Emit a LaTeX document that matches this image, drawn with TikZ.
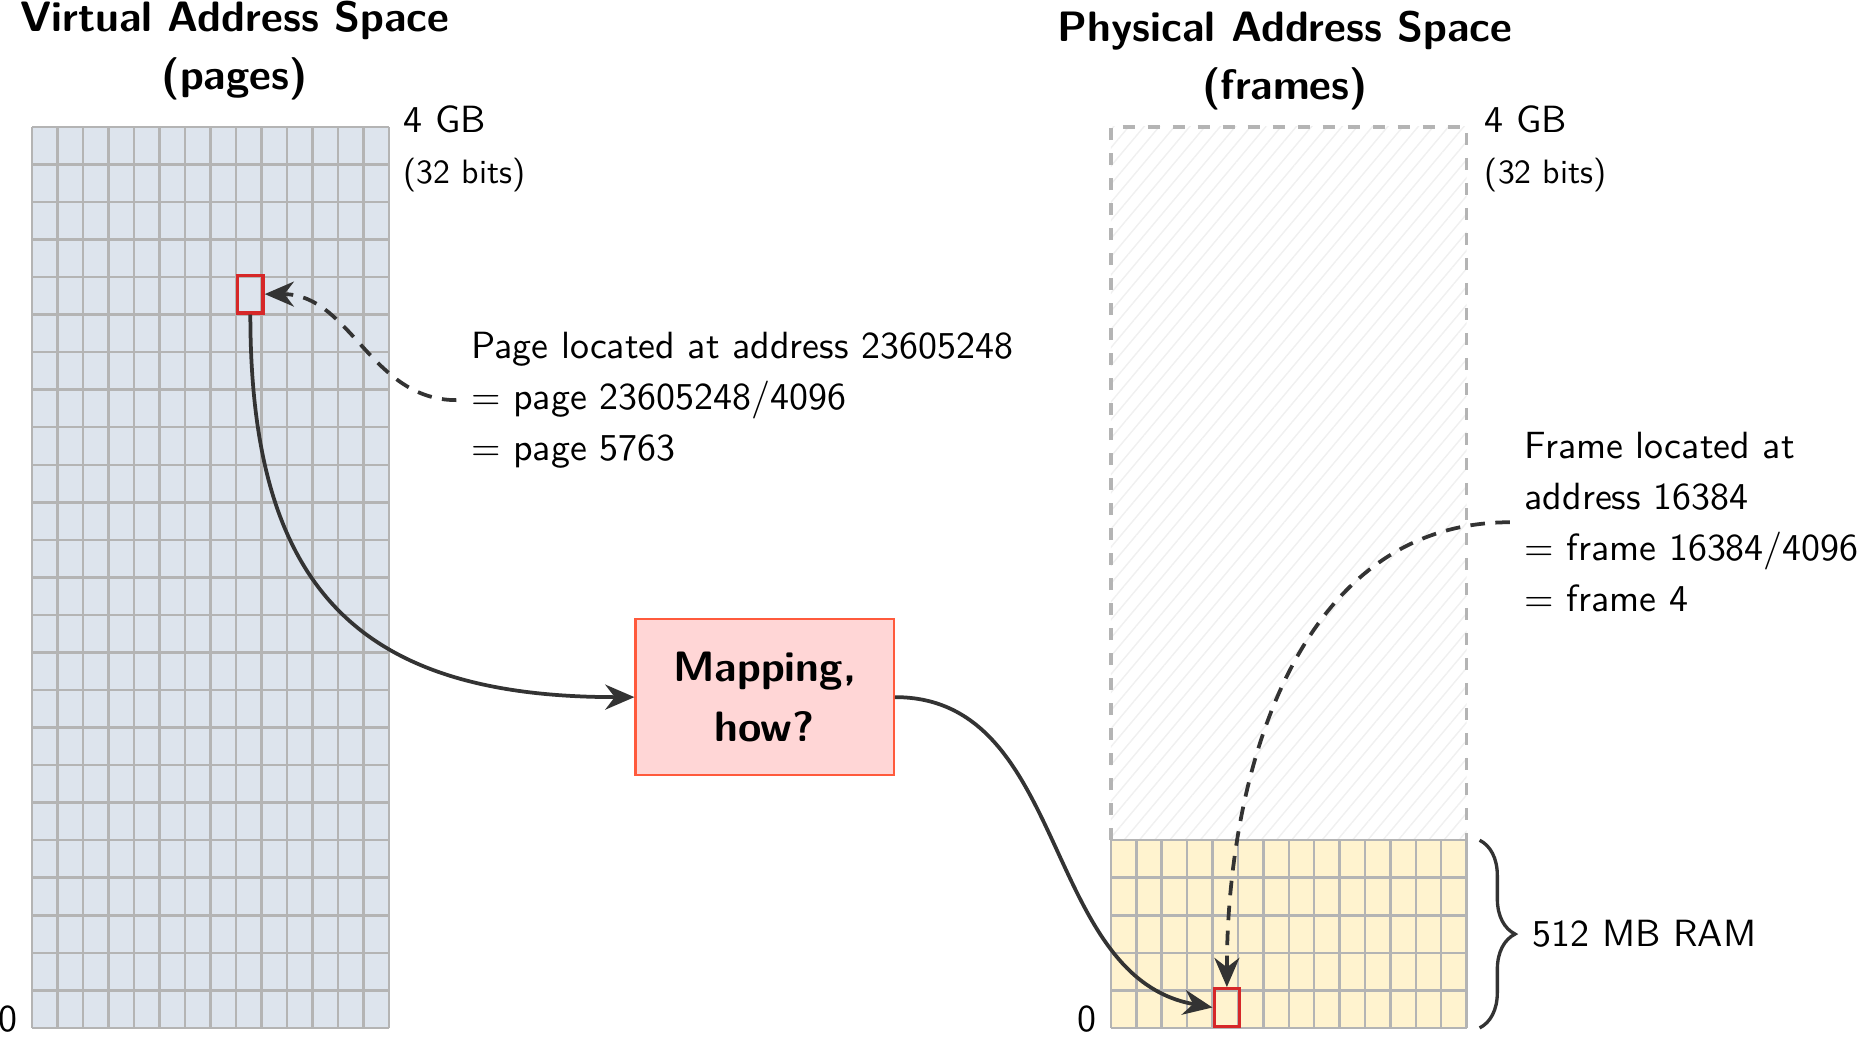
\documentclass[tikz,border=0pt]{standalone}
\usepackage{fontspec}
\setsansfont{lmsans10-regular.otf}[BoldFont=lmsans10-bold.otf]
\usetikzlibrary{arrows.meta,patterns.meta,decorations.pathreplacing}
\definecolor{pagefill}{RGB}{221,228,237}
\definecolor{ramfill}{RGB}{255,243,207}
\definecolor{gridgray}{RGB}{180,180,180}
\definecolor{mapfill}{RGB}{255,214,214}
\definecolor{mapline}{RGB}{255,90,60}
\definecolor{markred}{RGB}{214,39,40}
\definecolor{linkgray}{RGB}{51,51,51}
\tikzset{
  every node/.style={font=\sffamily\fontsize{9.1}{12.2}\selectfont},
  title/.style={font=\sffamily\bfseries\fontsize{10.2}{14}\selectfont, align=center},
  small/.style={font=\sffamily\fontsize{8.1}{10}\selectfont},
  gridline/.style={draw=gridgray, line width=0.6pt},
  cell/.style={draw=markred, line width=0.8pt, minimum width=0.215cm, minimum height=0.3167cm, inner sep=0pt, anchor=south west},
  mapbox/.style={draw=mapline, fill=mapfill, line width=0.5pt, minimum width=2.18cm, minimum height=1.32cm, align=center, font=\sffamily\bfseries\fontsize{10.2}{14.3}\selectfont},
  link/.style={draw=linkgray, line width=0.9pt, -{Stealth[length=7pt,width=6pt]}},
  dlink/.style={link, dash pattern=on 3.5pt off 2.5pt},
  note/.style={align=left}
}
\begin{document}
\begin{tikzpicture}
\useasboundingbox (0,0) rectangle (15.68,8.74);
% virtual address space (pages)
\fill[pagefill] (0.27,0.07) rectangle (3.28,7.67);
\begin{scope}[shift={(0.27,0.07)}]
\draw[gridline, xstep=0.215cm, ystep=0.31667cm] (0,0) grid (3.011,7.601);
\end{scope}
\node[title] (vtitle) at (1.98,8.314) {Virtual Address Space\\(pages)};
\node[anchor=base west] (vmax) at (3.28,7.62) {4 GB};
\node[small, anchor=base west] (vbits) at (3.28,7.19) {(32 bits)};
\node[anchor=base east] (vzero) at (0.27,0.04) {0};
\node[cell] (page) at (1.99,6.087) {};

% physical address space (frames)
\fill[pattern={Lines[angle=50, distance=2.8pt, line width=0.35pt]}, pattern color=black!6] (9.37,1.653) rectangle (12.37,7.67);
\draw[gridgray, dashed, line width=0.8pt] (9.37,1.653) rectangle (12.37,7.67);
\fill[ramfill] (9.37,0.07) rectangle (12.37,1.653);
\begin{scope}[shift={(9.37,0.07)}]
\draw[gridline, xstep=0.21429cm, ystep=0.31667cm] (0,0) grid (3.001,1.584);
\end{scope}
\node[title] (ptitle) at (10.84,8.23) {Physical Address Space\\(frames)};
\node[anchor=base west] (pmax) at (12.40,7.62) {4 GB};
\node[small, anchor=base west] (pbits) at (12.40,7.19) {(32 bits)};
\node[anchor=base east] (pzero) at (9.37,0.04) {0};
\node[cell, minimum width=0.2143cm] (frame) at (10.227,0.07) {};
\draw[linkgray, line width=0.8pt, decorate, decoration={brace, amplitude=8.5pt}] (12.48,1.653) -- (12.48,0.07) node[midway, right=9pt, text=black] (ramtxt) {512 MB RAM};

% mapping
\node[mapbox] (map) at (6.45,2.86) {Mapping,\\how?};
\node[note, anchor=west] (pagetxt) at (3.85,5.365) {Page located at address 23605248\\= page 23605248/4096\\= page 5763};
\node[note, anchor=west] (frametxt) at (12.735,4.335) {Frame located at\\address 16384\\= frame 16384/4096\\= frame 4};

\draw[dlink] (pagetxt.west) to[out=180,in=0] (page.east);
\draw[link] (page.south) to[out=-90,in=180,looseness=1.3] (map.west);
\draw[link] (map.east) to[out=0,in=170] (frame.west);
\draw[dlink] (frametxt.west) to[out=180,in=90] (frame.north);
\end{tikzpicture}
\end{document}
